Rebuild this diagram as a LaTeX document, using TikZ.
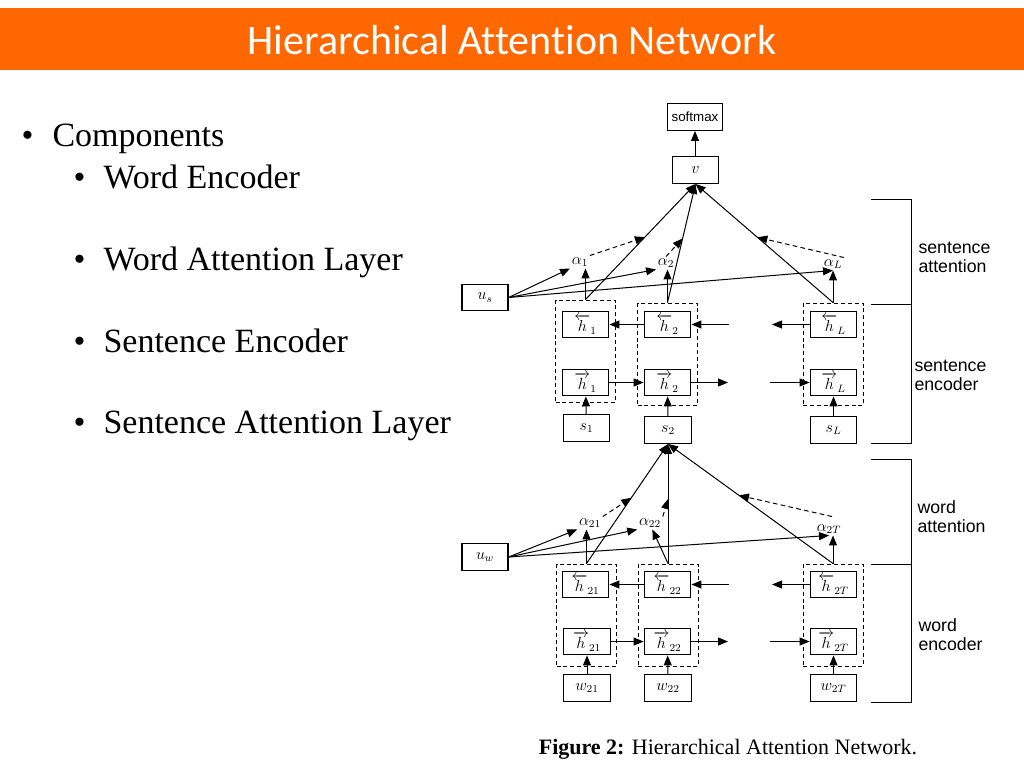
\documentclass[tikz,border=0pt]{standalone}
\usepackage{amsmath}
\usepackage{fontspec}
\setmainfont{Liberation Serif}
\newfontfamily\titolofont[Ligatures=NoCommon]{Carlito}
\newfontfamily\helvfont{Liberation Sans}
\usetikzlibrary{positioning, arrows.meta}
\definecolor{Arancio}{RGB}{255, 103, 0}
\tikzset{
    scatola/.style = {draw=black, line width=0.9pt, minimum width=35pt, minimum height=20pt, inner sep=0pt, font=\fontsize{12}{14}\selectfont},
    tratteggio/.style = {draw=black, dash pattern=on 3pt off 2.2pt, line width=0.75pt, inner sep=0pt},
    freccia/.style = {arrows = {-{Triangle[length=7.5pt, width=6pt]}}},
    attenzione/.style = {freccia, dash pattern=on 3.5pt off 2.5pt},
    etichetta/.style = {inner sep=1pt, font=\fontsize{12}{14}\selectfont},
    voce/.style = {anchor=base west, inner sep=0pt, font=\fontsize{25.5}{30}\selectfont},
    parentesi/.style = {anchor=west, align=left, inner sep=0pt, font=\helvfont\fontsize{13.3}{14.3}\selectfont}
}

\begin{document}
\begin{tikzpicture}[
        x=0.75pt, y=-0.75pt,
        line width=0.75pt,
        colonna/.style = {tratteggio, minimum width=45pt, minimum height=76.5pt}
    ]
    \useasboundingbox (0,0) rectangle (1024,768);

    % titolo
    \fill[Arancio] (0,8) rectangle (1024,70);
    \node[text=white, font=\titolofont\fontsize{31.5}{36}\selectfont] (titolo) at (512,40) {Hierarchical Attention Network};

    % elenco
    \node[voce] (p0) at (21,146) {\textbullet};
    \node[voce] (t0) at (52,146) {Components};
    \node[voce] (p1) at (73,188) {\textbullet};
    \node[voce] (t1) at (103,188) {Word Encoder};
    \node[voce] (p2) at (73,270) {\textbullet};
    \node[voce] (t2) at (103,270) {Word Attention Layer};
    \node[voce] (p3) at (73,352) {\textbullet};
    \node[voce] (t3) at (103,352) {Sentence Encoder};
    \node[voce] (p4) at (73,433) {\textbullet};
    \node[voce] (t4) at (103,433) {Sentence Attention Layer};

    % livello frase
    \node[scatola, minimum width=41pt] (softmax) at (695,117) {\helvfont\fontsize{10}{12}\selectfont softmax};
    \node[scatola] (v) at (695.5,170) {$v$};
    \node[scatola, minimum width=34.5pt, minimum height=19pt] (us) at (485,297.5) {$u_s$};

    \node[colonna] (c1) at (585.5,351) {};
    \node[colonna] (c2) at (667.5,354) {};
    \node[colonna] (cL) at (833,354) {};

    \node[scatola] (hb1) at (585.5,324.5) {$\overleftarrow{h}_1$};
    \node[scatola] (hf1) at (585.5,382.5) {$\overrightarrow{h}_1$};
    \node[scatola] (hb2) at (667.5,324.5) {$\overleftarrow{h}_2$};
    \node[scatola] (hf2) at (667.5,382.5) {$\overrightarrow{h}_2$};
    \node[scatola] (hbL) at (833.5,324.5) {$\overleftarrow{h}_L$};
    \node[scatola] (hfL) at (833.5,382.5) {$\overrightarrow{h}_L$};

    \node[scatola] (s1) at (586.5,428) {$s_1$};
    \node[scatola] (s2) at (668,430) {$s_2$};
    \node[scatola] (sL) at (833.5,430) {$s_L$};

    \node[etichetta] (a1) at (580,262) {$\alpha_1$};
    \node[etichetta] (a2) at (666,263) {$\alpha_2$};
    \node[etichetta] (aL) at (833,264) {$\alpha_L$};

    \coordinate (sb)  at (729,324.5);
    \coordinate (sbL) at (772,324.5);
    \coordinate (sf)  at (728,382.5);
    \coordinate (sfL) at (770,382.5);

    \draw[freccia] (softmax.south |- v.north) -- (softmax);
    \draw[freccia] (hb2) -- (hb1);
    \draw[freccia] (sb) -- (hb2);
    \draw[freccia] (hbL) -- (sbL);
    \draw[freccia] (hf1) -- (hf2);
    \draw[freccia] (hf2) -- (sf);
    \draw[freccia] (sfL) -- (hfL);
    \draw[freccia] (s1) -- (hf1);
    \draw[freccia] (s2) -- (hf2);
    \draw[freccia] (sL) -- (hfL);

    \draw[freccia] (c1.north) -- (c1.north |- a1.south);
    \draw[freccia] (c2.north) -- (c2.north |- a2.south);
    \draw[freccia] (cL.north) -- (cL.north |- aL.south);
    \draw[freccia] (c1.north) -- (v.south);
    \draw[freccia] (c2.north) -- (v.south);
    \draw[freccia] (cL.north) -- (v.south);
    \draw[freccia] (us.east) -- (a1.south west);
    \draw[freccia] (us.east) -- (a2.south west);
    \draw[freccia] (us.east) -- (aL.south);

    \path (c1.north) -- (v.south) coordinate[pos=0.54] (m1);
    \path (c2.north) -- (v.south) coordinate[pos=0.54] (m2);
    \path (cL.north) -- (v.south) coordinate[pos=0.55] (mL);
    \draw[attenzione] (a1.north east) -- (m1);
    \draw[attenzione] (a2.north) -- (m2);
    \draw[attenzione] (aL.north east) -- (mL);

    % livello parola
    \node[scatola, minimum width=34.5pt] (uw) at (485,557) {$u_w$};

    \node[colonna] (d1) at (586.5,615) {};
    \node[colonna] (d2) at (668,615) {};
    \node[colonna] (dT) at (833,615) {};

    \node[scatola] (hb21) at (585.5,584.5) {$\overleftarrow{h}_{21}$};
    \node[scatola] (hf21) at (587,641.5) {$\overrightarrow{h}_{21}$};
    \node[scatola] (hb22) at (667.5,584.5) {$\overleftarrow{h}_{22}$};
    \node[scatola] (hf22) at (667.5,641.5) {$\overrightarrow{h}_{22}$};
    \node[scatola] (hb2T) at (833.5,584.5) {$\overleftarrow{h}_{2T}$};
    \node[scatola] (hf2T) at (833.5,641.5) {$\overrightarrow{h}_{2T}$};

    \node[scatola] (w21) at (587,688) {$w_{21}$};
    \node[scatola] (w22) at (668,688) {$w_{22}$};
    \node[scatola] (w2T) at (833.5,688) {$w_{2T}$};

    \node[etichetta] (a21) at (590,523) {$\alpha_{21}$};
    \node[etichetta] (a22) at (650,523) {$\alpha_{22}$};
    \node[etichetta] (a2T) at (829,529) {$\alpha_{2T}$};

    \coordinate (wb)  at (729,584.5);
    \coordinate (wbL) at (772,584.5);
    \coordinate (wf)  at (728,641.5);
    \coordinate (wfL) at (770,641.5);

    \draw[freccia] (hb22) -- (hb21);
    \draw[freccia] (wb) -- (hb22);
    \draw[freccia] (hb2T) -- (wbL);
    \draw[freccia] (hf21) -- (hf22);
    \draw[freccia] (hf22) -- (wf);
    \draw[freccia] (wfL) -- (hf2T);
    \draw[freccia] (w21) -- (hf21);
    \draw[freccia] (w22) -- (hf22);
    \draw[freccia] (w2T) -- (hf2T);

    \draw[freccia] (d1.north) -- (d1.north |- a21.south);
    \draw[freccia] (d2.north) -- (a22.-70);
    \draw[freccia] (dT.north) -- (dT.north |- a2T.south);
    \draw[freccia] (d1.north) -- (s2.south);
    \draw[freccia] (d2.north) -- (s2.south);
    \draw[freccia] (dT.north) -- (s2.south);
    \draw[freccia] (uw.east) -- (a21.south west);
    \draw[freccia] (uw.east) -- (a22.south west);
    \draw[freccia] (uw.east) -- (a2T.south);

    \path (d1.north) -- (s2.south) coordinate[pos=0.55] (n1);
    \path (d2.north) -- (s2.south) coordinate[pos=0.54] (n2);
    \path (dT.north) -- (s2.south) coordinate[pos=0.57] (nT);
    \draw[attenzione] (a21.north east) -- (n1);
    \draw[attenzione] (a22.north east) -- (n2);
    \draw[attenzione] (a2T.north) ++(3,-6) coordinate (q2T) -- (nT);

    % parentesi a destra
    \draw (871,199) -- (911,199) -- (911,443) -- (871,443);
    \draw (871,304) -- (911,304);
    \draw (871,459) -- (911,459) -- (911,702) -- (871,702);
    \draw (871,564) -- (911,564);
    \node[parentesi] (sa) at (918,257) {sentence\\attention};
    \node[parentesi] (se) at (914,375) {sentence\\encoder};
    \node[parentesi] (wa) at (917,517) {word\\attention};
    \node[parentesi] (we) at (918,635) {word\\encoder};

    % didascalia
    \node[font=\fontsize{16.5}{19}\selectfont] (didascalia) at (728,749) {\textbf{Figure 2:} Hierarchical Attention Network.};
\end{tikzpicture}
\end{document}
